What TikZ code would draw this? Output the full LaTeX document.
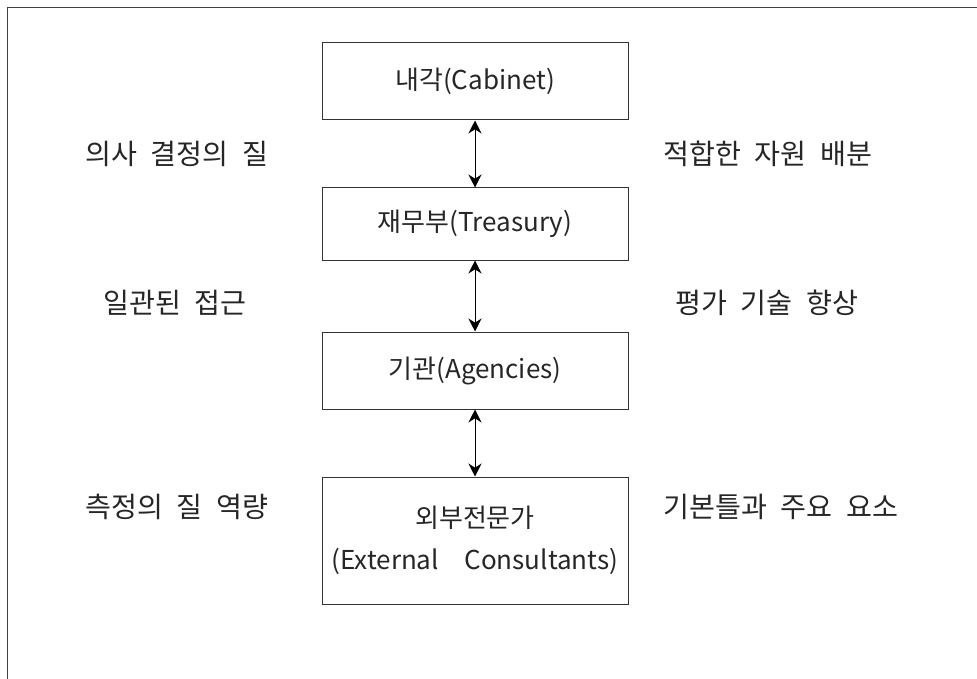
\documentclass[tikz,border=0pt]{standalone}
\usepackage{fontspec}
\setmainfont{Noto Sans CJK KR}[WordSpace=2.2]
\usetikzlibrary{arrows.meta}
\definecolor{framegray}{HTML}{404040}
\definecolor{boxgray}{HTML}{333333}
\tikzset{
  x=1pt, y=-1pt,
  every node/.style={font=\fontsize{26pt}{42pt}\selectfont, text=black!85},
  orgbox/.style={draw=boxgray, line width=1pt, minimum width=306pt, minimum height=77pt, inner sep=0pt, align=center},
  sidelabel/.style={anchor=west, inner sep=0pt, font=\fontsize{28.2pt}{42pt}\selectfont},
  link/.style={{Stealth[length=13pt,width=13pt]}-{Stealth[length=13pt,width=13pt]}, line width=1pt, black}
}
\begin{document}
\begin{tikzpicture}
\useasboundingbox (0,0) rectangle (977,679);
\draw[framegray, line width=1.4pt] (7.7,679) -- (7.7,7.7) -- (977,7.7);

\node[orgbox] (cab) at (475,81.5) {내각(Cabinet)};
\node[orgbox, minimum height=72pt] (tre) at (475,224) {재무부(Treasury)};
\node[orgbox] (age) at (475,370.5) {기관(Agencies)};
\node[orgbox, minimum height=127pt] (ext) at (475,540.5) {외부전문가\\(External\ \ Consultants)};

\draw[link] (cab.south) -- (tre.north);
\draw[link] (tre.south) -- (age.north);
\draw[link] (age.south) -- (ext.north);

\node[sidelabel] (l1) at (85,154) {의사 결정의 질};
\node[sidelabel] (r1) at (663,154) {적합한 자원 배분};
\node[sidelabel] (l2) at (103,302.5) {일관된 접근};
\node[sidelabel] (r2) at (675,302.5) {평가 기술 향상};
\node[sidelabel] (l3) at (85,506.7) {측정의 질 역량};
\node[sidelabel] (r3) at (663,506.7) {기본틀과 주요 요소};
\end{tikzpicture}
\end{document}
